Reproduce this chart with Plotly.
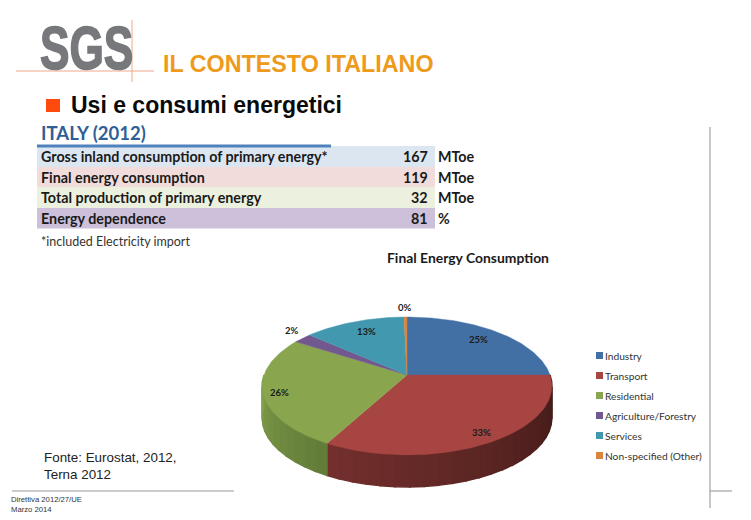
import numpy as np
import plotly.graph_objects as go

# ---------- data ----------
categories = ["Industry", "Transport", "Residential", "Agriculture/Forestry", "Services", "Non-specified (Other)"]
shares = [25, 33, 26, 2.4, 13.2, 0.4]
share_labels = ["25%", "33%", "26%", "2%", "13%", "0%"]
top_colors = ["#4270A5", "#A64542", "#89A54E", "#71588F", "#4198AF", "#DB843D"]
wall_light = ["#3A6595", "#74302E", "#82A04C", "#5E4A78", "#37839A", "#B86F33"]
wall_dark = ["#2C4D72", "#3F1A17", "#627C38", "#463660", "#2A6578", "#8A5326"]
table_rows = ["Gross inland consumption of primary energy*", "Final energy consumption",
              "Total production of primary energy", "Energy dependence"]
table_values = [167, 119, 32, 81]
table_units = ["MToe", "MToe", "MToe", "%"]
table_fills = ["#DCE6F1", "#F2DCDB", "#EBF1DE", "#CCC0DA"]

# ---------- pie geometry ----------
CX, CY, A, B, K, DEPTH = 407, 375, 143, 67.2, 0.159, 32
LABEL_POS = [(478, 339), (481, 432), (279, 392), (292, 330), (366, 331), (405, 307)]
PAD = 2  # annotation inner padding


def rim(theta):
    """Perspective projection of a circle point; theta clockwise from top, radians."""
    u, v = np.sin(theta), np.cos(theta)
    d = 1 + K * v
    return CX + A * u / d, CY - B * v / d


def lerp(c1, c2, t):
    a = [int(c1[i:i + 2], 16) for i in (1, 3, 5)]
    b = [int(c2[i:i + 2], 16) for i in (1, 3, 5)]
    return "rgb(%d,%d,%d)" % tuple(a[i] + (b[i] - a[i]) * t for i in range(3))


fig = go.Figure()
fractions = np.cumsum([0] + shares) / sum(shares)
bounds = fractions * 2 * np.pi

# side wall: vertical strips of the front arc, light towards the left
for i in range(len(shares)):
    lo, hi = max(bounds[i], np.pi / 2), min(bounds[i + 1], 3 * np.pi / 2)
    if hi <= lo:
        continue
    edges = np.linspace(lo, hi, max(2, int((hi - lo) * 12)) + 1)
    for j in range(len(edges) - 1):
        t = np.linspace(edges[j], edges[j + 1], 6)
        x, y = rim(t)
        mid = (edges[j] + edges[j + 1]) / 2
        f = (mid - lo) / (hi - lo)
        col = lerp(wall_dark[i], wall_light[i], f)
        fig.add_trace(go.Scatter(
            x=np.r_[x, x[::-1], x[0]], y=np.r_[y, y[::-1] + DEPTH, y[0]],
            mode="lines", fill="toself", fillcolor=col, line=dict(color=col, width=1.5),
            hoverinfo="skip", showlegend=False))

# top face
for i, name in enumerate(categories):
    t = np.linspace(bounds[i], bounds[i + 1], 90)
    x, y = rim(t)
    fig.add_trace(go.Scatter(
        x=np.r_[CX, x, CX], y=np.r_[CY, y, CY], name=name,
        mode="lines", fill="toself", fillcolor=top_colors[i],
        line=dict(color=top_colors[i], width=0.4), hoverinfo="name", showlegend=False))

shapes, notes = [], []


def rect(x0, y0, x1, y1, color):
    shapes.append(dict(type="rect", xref="x", yref="y", x0=x0, y0=y0, x1=x1, y1=y1,
                       fillcolor=color, line=dict(width=0), layer="below"))


def line(x0, y0, x1, y1, color, width):
    shapes.append(dict(type="line", xref="x", yref="y", x0=x0, y0=y0, x1=x1, y1=y1,
                       line=dict(color=color, width=width), layer="above"))


def text(x, y, s, size, color="#111111", family="Lato", anchor="left", bold=False):
    ax = x - PAD if anchor == "left" else x + PAD if anchor == "right" else x
    notes.append(dict(x=ax, y=y, xref="x", yref="y", text="<b>%s</b>" % s if bold else s,
                      showarrow=False, xanchor=anchor, yanchor="middle", align=anchor,
                      font=dict(size=size, color=color, family=family)))


# header
text(39.5, 48, "SGS", 61, "#77787B", "Liberation Sans", bold=True)
line(16, 71, 154, 71, "#EFA88A", 1)
line(132, 20, 132, 82, "#EFA88A", 1)
text(163, 64, "IL CONTESTO ITALIANO", 23.3, "#EE9A1B", "Liberation Sans", bold=True)
rect(46, 99, 60, 112, "#FF4A0D")
text(71, 105, "Usi e consumi energetici", 23, "#0A0A0A", "Liberation Sans", bold=True)
text(41, 133, "ITALY (2012)", 18.5, "#2F5F95", bold=True)

# table
row_y = [146, 167, 187, 208, 228.5]
for i, row in enumerate(table_rows):
    rect(37, row_y[i], 435, row_y[i + 1], table_fills[i])
    mid = (row_y[i] + row_y[i + 1]) / 2
    text(40.5, mid, row, 14.3, "#1A1A1A", bold=True)
    text(428, mid, str(table_values[i]), 14.3, "#1A1A1A", anchor="right", bold=True)
    text(437.5, mid, table_units[i], 14.3, "#1A1A1A", bold=True)
line(37, 146, 331, 146, "#4F81BD", 3)
text(40.5, 241, "*included Electricity import", 12.5, "#333333")

# chart title, slice labels, legend
text(468, 257, "Final Energy Consumption", 13.9, "#1A1A1A", anchor="center", bold=True)
for (lx, ly), s in zip(LABEL_POS, share_labels):
    text(lx, ly, s, 9.5, "#1A1A1A", anchor="center", bold=True)
for i, name in enumerate(categories):
    ly = 355.5 + i * 20
    rect(596, ly - 3.5, 603, ly + 3.5, top_colors[i])
    text(605, ly, name, 10.2, "#333333")

# footer and page rules
text(44, 457, "Fonte: Eurostat, 2012,", 13.4, "#222222", "Liberation Sans")
text(44, 474, "Terna 2012", 13.4, "#222222", "Liberation Sans")
line(12, 491, 234, 491, "#BBBBBB", 1.5)
text(11, 499, "Direttiva 2012/27/UE", 7.7, "#333333", "Liberation Sans")
text(11, 509, "Marzo 2014", 7.7, "#333333", "Liberation Sans")
line(710, 127, 710, 508, "#B5B5B5", 1.5)
line(709, 491, 732, 491, "#B5B5B5", 1.5)

# The page body has an 8px margin: the plot covers page pixels 8..751 and 8..520.
fig.update_layout(
    width=743, height=512, autosize=False,
    margin=dict(l=0, r=0, t=0, b=0),
    paper_bgcolor="white", plot_bgcolor="white",
    xaxis=dict(range=[8, 751], visible=False, fixedrange=True),
    yaxis=dict(range=[520, 8], visible=False, fixedrange=True),
    shapes=shapes, annotations=notes, showlegend=False,
)

# the logo lettering is a tall condensed heavy face: squeeze the real text and thicken it
squeeze = """
document.querySelectorAll('.annotation-text').forEach(function (t) {
  if (t.textContent === 'SGS') {
    var b = t.getBBox();
    t.setAttribute('transform', 'translate(' + b.x + ',0) scale(0.725,1) translate(' + (-b.x) + ',0)');
    t.style.stroke = '#77787B';
    t.style.strokeWidth = '1.6px';
  }
});
"""
fig.write_html("out.html", config={"displayModeBar": False}, post_script=squeeze)
